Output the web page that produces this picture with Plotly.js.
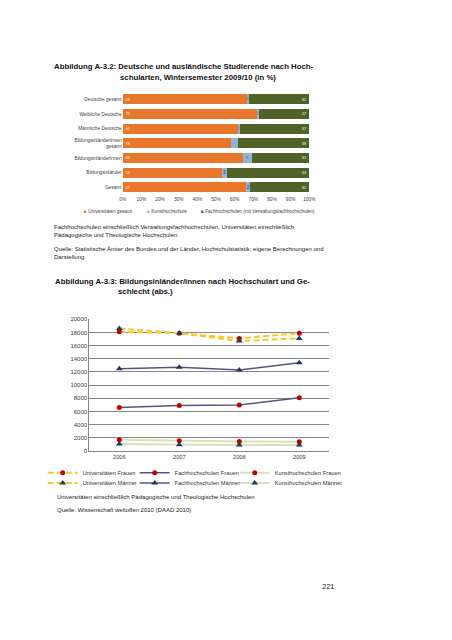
<!DOCTYPE html>
<html><head><meta charset="utf-8">
<script src="https://cdn.plot.ly/plotly-3.0.1.min.js"></script>
<style>html,body{margin:0;padding:0;background:#fff}#chart{width:452px;height:640px}</style>
</head><body><div id="chart"></div>
<script>
// ---- Abbildung A-3.2 data (percent shares) ----
const groups = ['Deutsche gesamt','Weibliche Deutsche','Männliche Deutsche','Bildungsinländerinnen<br>gesamt','Bildungsinländerinnen','Bildungsinländer','Gesamt'];
const uniShare = [66, 72, 61, 58, 65, 53, 67];
const kunstShare = [1, 1, 1, 4, 5, 3, 2];
const fhShare = [32, 27, 37, 38, 31, 44, 32];
const shareTicks = [0, 10, 20, 30, 40, 50, 60, 70, 80, 90, 100];
const shareTickLabels = ['0%', '10%', '20%', '30%', '40%', '50%', '60%', '70%', '80%', '90%', '100%'];
const barSeriesNames = ['Universitäten gesamt', 'Kunsthochschule', 'Fachhochschulen (mit Verwaltungsfachhochschulen)'];

// ---- Abbildung A-3.3 data (absolute numbers) ----
const years = ['2006', '2007', '2008', '2009'];
const uniFrauen = [18100, 17900, 17100, 17900];
const uniMaenner = [18600, 17900, 16700, 17100];
const fhFrauen = [6600, 6900, 7000, 8100];
const fhMaenner = [12500, 12700, 12300, 13400];
const kunstFrauen = [1700, 1550, 1450, 1400];
const kunstMaenner = [1050, 950, 900, 900];
const countTicks = [0, 2000, 4000, 6000, 8000, 10000, 12000, 14000, 16000, 18000, 20000];

const W = 452, H = 640;
const fx = px => px / W;
const fy = py => 1 - py / H;
const FONT = 'Liberation Sans, Arial, sans-serif';

const cOrange = '#E8762B', cBlue = '#95B3D7', cGreen = '#4F6228';
const cYellow = '#F6C832', cFH = '#56557F', cKunst = '#D5E2BA';
const cRed = '#C00000', cNavy = '#1F3864';
const barColors = [cOrange, cBlue, cGreen];
const uniDash = '6px,3px';

const barText = arr => arr.map(v => String(v));
const traces = [
  {type:'bar', orientation:'h', name:barSeriesNames[0], y:groups, x:uniShare, text:barText(uniShare),
   texttemplate:'%{text}', textposition:'inside', insidetextanchor:'start', textangle:0,
   textfont:{size:4.8, color:'#ffffff', family:FONT}, marker:{color:barColors[0]},
   xaxis:'x', yaxis:'y', showlegend:false, hoverinfo:'skip'},
  {type:'bar', orientation:'h', name:barSeriesNames[1], y:groups, x:kunstShare, text:barText(kunstShare),
   texttemplate:'%{text}', textposition:'inside', insidetextanchor:'middle', textangle:0,
   textfont:{size:4.8, color:'#1F3864', family:FONT}, marker:{color:barColors[1]},
   xaxis:'x', yaxis:'y', showlegend:false, hoverinfo:'skip'},
  {type:'bar', orientation:'h', name:barSeriesNames[2], y:groups, x:fhShare, text:barText(fhShare),
   texttemplate:'%{text}', textposition:'inside', insidetextanchor:'end', textangle:0,
   textfont:{size:4.8, color:'#ffffff', family:FONT}, marker:{color:barColors[2]},
   xaxis:'x', yaxis:'y', showlegend:false, hoverinfo:'skip'},

  {type:'scatter', mode:'lines+markers', name:'Universitäten Frauen', x:years, y:uniFrauen,
   line:{color:cYellow, width:2, dash:uniDash}, marker:{symbol:'circle', size:5, color:cRed},
   xaxis:'x2', yaxis:'y2', legend:'legend2', legendwidth:47},
  {type:'scatter', mode:'lines+markers', name:'Fachhochschulen Frauen', x:years, y:fhFrauen,
   line:{color:cFH, width:1.5}, marker:{symbol:'circle', size:5, color:cRed},
   xaxis:'x2', yaxis:'y2', legend:'legend2', legendwidth:55},
  {type:'scatter', mode:'lines+markers', name:'Kunsthochschulen Frauen', x:years, y:kunstFrauen,
   line:{color:cKunst, width:2}, marker:{symbol:'circle', size:5, color:cRed},
   xaxis:'x2', yaxis:'y2', legend:'legend2'},
  {type:'scatter', mode:'lines+markers', name:'Universitäten Männer', x:years, y:uniMaenner,
   line:{color:cYellow, width:2, dash:uniDash}, marker:{symbol:'triangle-up', size:6, color:cNavy},
   xaxis:'x2', yaxis:'y2', legend:'legend3', legendwidth:47},
  {type:'scatter', mode:'lines+markers', name:'Fachhochschulen Männer', x:years, y:fhMaenner,
   line:{color:cFH, width:1.5}, marker:{symbol:'triangle-up', size:6, color:cNavy},
   xaxis:'x2', yaxis:'y2', legend:'legend3', legendwidth:55},
  {type:'scatter', mode:'lines+markers', name:'Kunsthochschulen Männer', x:years, y:kunstMaenner,
   line:{color:cKunst, width:2}, marker:{symbol:'triangle-up', size:6, color:cNavy},
   xaxis:'x2', yaxis:'y2', legend:'legend3'}
];

function txt(s, px, py, size, bold, color) {
  return {text: bold ? '<b>'+s+'</b>' : s, xref:'paper', yref:'paper', x:fx(px), y:fy(py),
    xanchor:'left', yanchor:'middle', showarrow:false, borderpad:0,
    font:{family:FONT, size:size, color:color || '#222'}};
}

// key for the stacked bar chart (small colour squares followed by the series name)
const barKeyX = [82.5, 145.5, 199.5];
const barKey = barSeriesNames.map((n, i) =>
  txt('<span style="color:' + barColors[i] + '">■</span> ' + n, barKeyX[i], 211, 4.7, false, '#404040'));

const legendBase = {orientation:'h', xanchor:'left', yanchor:'top', bgcolor:'rgba(0,0,0,0)',
  borderwidth:0, traceorder:'normal'};

const layout = {
  width:W, height:H, margin:{l:0, r:0, t:0, b:0, autoexpand:false},
  paper_bgcolor:'#ffffff', plot_bgcolor:'rgba(0,0,0,0)',
  font:{family:FONT, color:'#404040'},
  barmode:'stack', barnorm:'percent', bargap:0.32,
  showlegend:true,
  xaxis:{domain:[fx(122.7), fx(309.3)], anchor:'y', range:[0,100], tickvals:shareTicks, ticktext:shareTickLabels,
    showgrid:false, zeroline:false, showline:false, ticks:'', tickfont:{size:4.8, color:'#404040'}, fixedrange:true},
  yaxis:{domain:[fy(194.7), fy(92)], anchor:'x', type:'category', categoryarray:groups, autorange:'reversed',
    showgrid:false, zeroline:false, ticks:'', tickfont:{size:4.8, color:'#404040'}, fixedrange:true},
  xaxis2:{domain:[fx(89.3), fx(329.3)], anchor:'y2', type:'category', range:[-0.5,3.5],
    showgrid:false, zeroline:false, showline:true, linecolor:'#878787', linewidth:1, ticks:'',
    tickfont:{size:5.7, color:'#404040'}},
  yaxis2:{domain:[fy(451), fy(319.3)], anchor:'x2', range:[0,20000], tickvals:countTicks, tickformat:'d',
    showgrid:true, gridcolor:'#878787', gridwidth:1, zeroline:false, showline:true, linecolor:'#878787',
    ticks:'', tickfont:{size:6, color:'#404040'}},
  legend2:Object.assign({}, legendBase, {x:fx(42.7), y:fy(458.2), font:{size:5.7, color:'#333'}}),
  legend3:Object.assign({}, legendBase, {x:fx(42.7), y:fy(468.5), font:{size:5.7, color:'#333'}}),
  annotations:[
    txt('Abbildung A-3.2: Deutsche und ausländische Studierende nach Hoch-', 53.3, 66.7, 7.8, true, '#111'),
    txt('schularten, Wintersemester 2009/10 (in %)', 119, 77.3, 7.8, true, '#111'),
    txt('Fachhochschulen einschließlich Verwaltungsfachhochschulen; Universitäten einschließlich', 53.3, 226.7, 6),
    txt('Pädagogische und Theologische Hochschulen', 53.3, 235, 6),
    txt('Quelle: Statistische Ämter des Bundes und der Länder, Hochschulstatistik; eigene Berechnungen und', 53.3, 249, 6),
    txt('Darstellung', 53.3, 256.5, 6),
    txt('Abbildung A-3.3: Bildungsinländer/innen nach Hochschulart und Ge-', 54.3, 281, 7.8, true, '#111'),
    txt('schlecht (abs.)', 117.3, 291, 7.8, true, '#111'),
    txt('Universitäten einschließlich Pädagogische und Theologische Hochschulen', 56, 496.7, 6),
    txt('Quelle: Wissenschaft weltoffen 2010 (DAAD 2010)', 56, 510, 6),
    txt('221', 320.5, 586, 7.5, false, '#222')
  ].concat(barKey)
};

Plotly.newPlot('chart', traces, layout, {staticPlot:true, displayModeBar:false});
</script>
</body></html>
